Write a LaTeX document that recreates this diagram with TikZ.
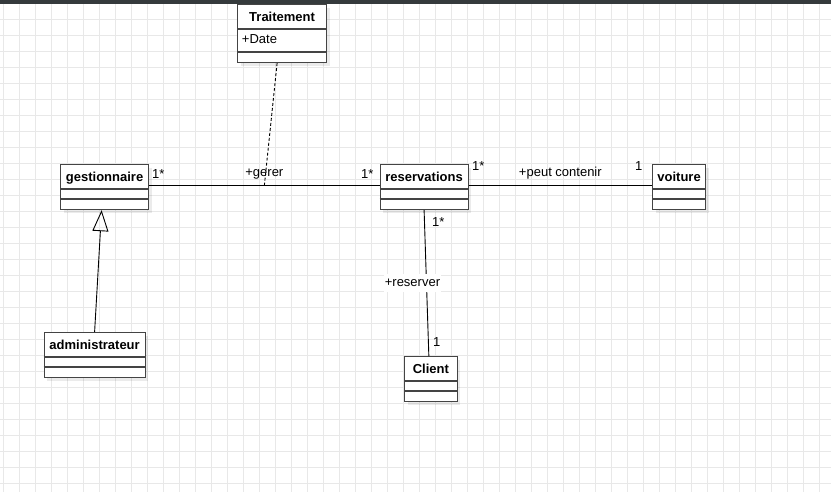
\documentclass[tikz,border=0pt]{standalone}
\usepackage{fontspec}
\setmainfont{Liberation Sans}
\usetikzlibrary{arrows.meta, shadows}
\definecolor{gridgray}{RGB}{232,232,232}
\definecolor{topbar}{RGB}{53,58,60}
\definecolor{boxline}{RGB}{68,68,68}

\begin{document}
\begin{tikzpicture}
            [x=1pt, y=-1pt, font=\fontsize{13}{15}\selectfont, line width=.9pt,
             classbox/.style={draw=boxline, fill=white, line width=1.2pt, inner sep=0pt, anchor=north west,
                              font=\fontsize{13}{15}\selectfont\bfseries, text height=17pt, text depth=28pt,
                              drop shadow={shadow xshift=3pt, shadow yshift=-3pt, fill=black, opacity=.08}},
             mult/.style={inner sep=0pt, anchor=base west},
             role/.style={inner sep=1pt, text height=9.5pt, text depth=2.5pt},
             gen/.style={-{Triangle[open, length=21pt, width=16pt]}}]
            \useasboundingbox (0,0) rectangle (831,492);
            \fill[white] (0,0) rectangle (831,492);
            \foreach \x in {3.7,19.7,...,831} \draw[gridgray, line width=1pt] (\x,0) -- (\x,492);
            \foreach \y in {3.3,19.3,...,492} \draw[gridgray, line width=1pt] (0,\y) -- (831,\y);

            \node[classbox, minimum width=89pt, text depth=41pt] (traitement) at (237,4) {Traitement};
            \node[classbox, minimum width=88pt] (gestionnaire) at (60,164) {gestionnaire};
            \node[classbox, minimum width=88pt] (reservations) at (379.5,164) {reservations};
            \node[classbox, minimum width=53pt] (voiture) at (652,164) {voiture};
            \node[classbox, minimum width=101pt] (administrateur) at (43.5,332) {administrateur};
            \node[classbox, minimum width=52.5pt] (client) at (404,356) {Client};
            \node[mult] (date) at (241.5,43.5) {+Date};

            \foreach \c in {gestionnaire, reservations, voiture, administrateur, client}
              \foreach \d in {25, 35}
                \draw[boxline, line width=1.2pt] ([yshift=-\d]\c.north west) -- ([yshift=-\d]\c.north east);
            \foreach \d in {25, 48}
              \draw[boxline, line width=1.2pt] ([yshift=-\d]traitement.north west) -- ([yshift=-\d]traitement.north east);
            \fill[topbar] (0,0) rectangle (831,3.7);

            \draw ([yshift=1.5]gestionnaire.east) -- coordinate[midway] (gerer)
                  node[role, midway, above=5.5pt] (gererlabel) {+gerer} ([yshift=1.5]reservations.west);
            \draw ([yshift=1.5]reservations.east) --
                  node[role, midway, above=5.5pt] (contenirlabel) {+peut contenir} ([yshift=1.5]voiture.west);
            \draw (reservations.south) --
                  node[role, pos=.5, fill=white, inner ysep=3pt, xshift=-14pt] (reserverlabel) {+reserver} ([xshift=-2]client.north);
            \draw[dashed, dash pattern=on 3pt off 2pt] ([xshift=-5]traitement.south) -- (gerer);
            \draw[gen] (administrateur.north) -- ([xshift=-3]gestionnaire.south);

            \node[mult] (gestmult) at (151.6,179) {1*};
            \node[mult] (resleftmult) at (360.6,179) {1*};
            \node[mult] (resrightmult) at (471.6,170.7) {1*};
            \node[mult] (voituremult) at (634.6,170.7) {1};
            \node[mult] (resdownmult) at (431.6,226.7) {1*};
            \node[mult] (clientmult) at (432.6,346.7) {1};
        \end{tikzpicture}
\end{document}
